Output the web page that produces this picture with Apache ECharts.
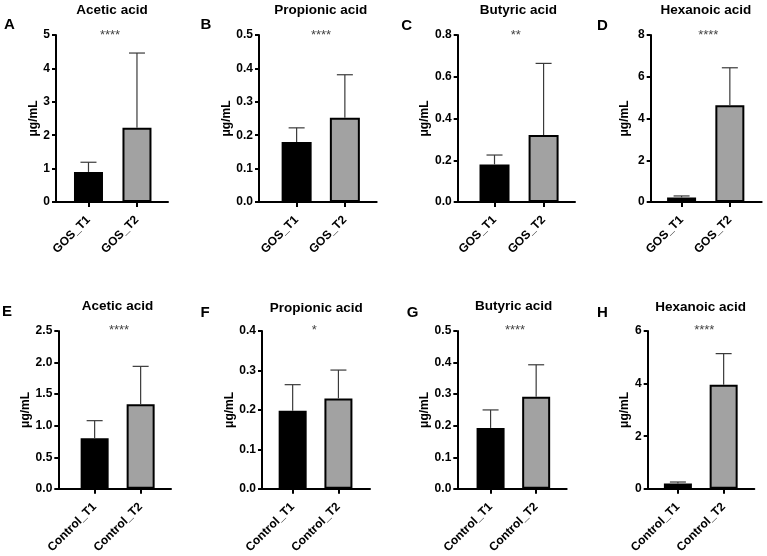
<!DOCTYPE html>
<html><head><meta charset="utf-8">
<script src="https://cdn.jsdelivr.net/npm/echarts@6/dist/echarts.min.js"></script>
<style>html,body{margin:0;padding:0;background:#fff}#c{width:767px;height:556px}</style>
</head><body><div id="c"></div>
<script>
// ---- data ----
const panelLetters = ['A','B','C','D','E','F','G','H'];
const panelTitles = ['Acetic acid','Propionic acid','Butyric acid','Hexanoic acid','Acetic acid','Propionic acid','Butyric acid','Hexanoic acid'];
const gosCategories = ['GOS_T1','GOS_T2'];
const controlCategories = ['Control_T1','Control_T2'];
const meanT1 = [0.90, 0.180, 0.180, 0.22, 0.80, 0.198, 0.193, 0.20];
const meanT2 = [2.22, 0.252, 0.321, 4.63, 1.34, 0.229, 0.292, 3.96];
const upperErrT1 = [1.19, 0.222, 0.225, 0.29, 1.08, 0.264, 0.250, 0.26];
const upperErrT2 = [4.46, 0.381, 0.664, 6.43, 1.94, 0.301, 0.393, 5.14];
const significance = ['****','****','**','****','****','*','****','****'];
const yMax = [5, 0.5, 0.8, 8, 2.5, 0.4, 0.5, 6];
const yInterval = [1, 0.1, 0.2, 2, 0.5, 0.1, 0.1, 2];
const yDecimals = [0, 1, 1, 0, 1, 1, 1, 0];
const yAxisTitle = 'μg/mL';

// ---- layout (positions only) ----
const layout = [
  {left:56,    width:112,   top:35,  height:167,   xMin:-0.67, xMax:1.64, barW:29, nameGap:16,   title:[112,10],    letter:[9.5,25],   star:[110,35]},
  {left:259,   width:117.7, top:35,  height:167,   xMin:-0.78, xMax:1.66, barW:30, nameGap:19,   title:[320.8,10],  letter:[205.8,25], star:[321,35]},
  {left:457.7, width:117.3, top:35,  height:167,   xMin:-0.75, xMax:1.64, barW:30, nameGap:25.7, title:[518.3,10],  letter:[406.7,26], star:[515.7,35]},
  {left:650.7, width:111,   top:35,  height:167,   xMin:-0.64, xMax:1.66, barW:29, nameGap:20.4, title:[705.8,10],  letter:[602.3,26], star:[708.3,35]},
  {left:58.3,  width:112.7, top:331, height:159.5, xMin:-0.79, xMax:1.66, barW:28, nameGap:18,   title:[117.5,306.7], letter:[7,311.7],   star:[119,330]},
  {left:262,   width:108,   top:331, height:159.5, xMin:-0.67, xMax:1.69, barW:28, nameGap:25.7, title:[316.2,308],   letter:[205,313],   star:[314.3,330]},
  {left:457.3, width:109.4, top:331, height:159.5, xMin:-0.73, xMax:1.67, barW:28, nameGap:25.3, title:[513.7,306.7], letter:[412.5,313], star:[515,330]},
  {left:647.7, width:106.6, top:331, height:159.5, xMin:-0.66, xMax:1.67, barW:28, nameGap:17.4, title:[700.7,307],   letter:[602.5,313], star:[704.3,330]}
];

const FONT = 'Arial, "Liberation Sans", Helvetica, sans-serif';
const grids = [], xAxes = [], yAxes = [], series = [], graphics = [];

for (let i = 0; i < 8; i++) {
  const L = layout[i];
  const cats = i < 4 ? gosCategories : controlCategories;
  grids.push({left:L.left, top:L.top, width:L.width, height:L.height, containLabel:false});
  xAxes.push({
    type:'value', gridIndex:i, min:L.xMin, max:L.xMax,
    axisLine:{show:true, onZero:false, lineStyle:{color:'#000', width:2}},
    axisTick:{show:true, customValues:[0,1], length:5, lineStyle:{color:'#000', width:2}},
    axisLabel:{show:true, customValues:[0,1], rotate:45, margin:16, fontFamily:FONT, fontWeight:'bold', fontSize:12, color:'#000',
      formatter:(v)=>cats[Math.round(v)]},
    splitLine:{show:false}
  });
  yAxes.push({
    type:'value', gridIndex:i, min:0, max:yMax[i], interval:yInterval[i],
    name:yAxisTitle, nameLocation:'middle', nameGap:L.nameGap, nameRotate:90,
    nameTextStyle:{fontFamily:FONT, fontWeight:'bold', fontSize:12, color:'#000'},
    axisLine:{show:true, onZero:false, lineStyle:{color:'#000', width:2}},
    axisTick:{show:true, inside:false, length:4, lineStyle:{color:'#000', width:2}},
    axisLabel:{margin:6, fontFamily:FONT, fontWeight:'bold', fontSize:12, color:'#000',
      formatter:(v)=>Number(v).toFixed(yDecimals[i])},
    splitLine:{show:false}
  });
  series.push({
    type:'bar', xAxisIndex:i, yAxisIndex:i, barWidth:L.barW, z:2,
    data:[
      {value:[0, meanT1[i]], itemStyle:{color:'#000', borderColor:'#000', borderWidth:2}},
      {value:[1, meanT2[i]], itemStyle:{color:'#a2a2a2', borderColor:'#000', borderWidth:2}}
    ],
    animation:false
  });
  series.push({
    type:'custom', xAxisIndex:i, yAxisIndex:i, z:3,
    encode:{x:0, y:[1,2]},
    data:[[0, meanT1[i], upperErrT1[i]], [1, meanT2[i], upperErrT2[i]]],
    renderItem:(params, api)=>{
      const x = api.value(0);
      const p0 = api.coord([x, api.value(1)]);
      const p1 = api.coord([x, api.value(2)]);
      const half = 8;
      const st = {stroke:'#3a3a3a', lineWidth:1.2};
      return {type:'group', children:[
        {type:'line', shape:{x1:p0[0], y1:p0[1], x2:p1[0], y2:p1[1]}, style:st},
        {type:'line', shape:{x1:p1[0]-half, y1:p1[1], x2:p1[0]+half, y2:p1[1]}, style:st}
      ]};
    },
    animation:false
  });
  graphics.push({type:'text', x:L.title[0], y:L.title[1], style:{text:panelTitles[i], font:'bold 13.5px '+FONT, fill:'#000', textAlign:'center', textVerticalAlign:'middle'}});
  graphics.push({type:'text', x:L.letter[0], y:L.letter[1], style:{text:panelLetters[i], font:'bold 15px '+FONT, fill:'#000', textAlign:'center', textVerticalAlign:'middle'}});
  graphics.push({type:'text', x:L.star[0], y:L.star[1], style:{text:significance[i], font:'13px '+FONT, fill:'#444', textAlign:'center', textVerticalAlign:'middle'}});
}

const chart = echarts.init(document.getElementById('c'), null, {renderer:'canvas'});
chart.setOption({
  animation:false,
  backgroundColor:'#fff',
  grid:grids, xAxis:xAxes, yAxis:yAxes, series:series, graphic:graphics
});
</script></body></html>
